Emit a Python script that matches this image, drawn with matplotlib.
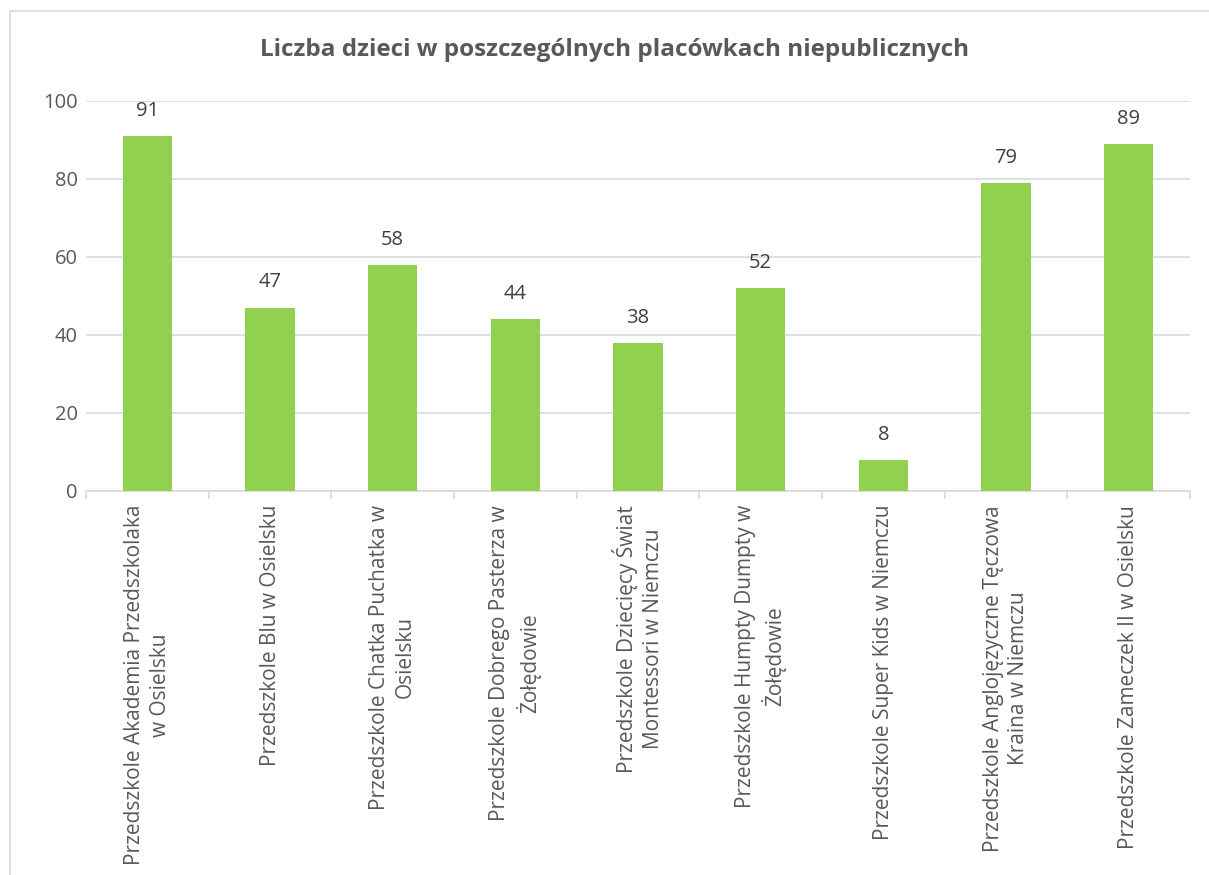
import matplotlib
matplotlib.use("Agg")
import matplotlib.pyplot as plt
from matplotlib.patches import Rectangle
import numpy as np

title = "Liczba dzieci w poszczególnych placówkach niepublicznych"
categories = [
    "Przedszkole Akademia Przedszkolaka\nw Osielsku",
    "Przedszkole Blu w Osielsku",
    "Przedszkole Chatka Puchatka w\nOsielsku",
    "Przedszkole Dobrego Pasterza w\nŻołędowie",
    "Przedszkole Dziecięcy Świat\nMontessori w Niemczu",
    "Przedszkole Humpty Dumpty w\nŻołędowie",
    "Przedszkole Super Kids w Niemczu",
    "Przedszkole Anglojęzyczne Tęczowa\nKraina w Niemczu",
    "Przedszkole Zameczek II w Osielsku",
]
values = [91, 47, 58, 44, 38, 52, 8, 79, 89]
yticks = [0, 20, 40, 60, 80, 100]

plt.rcParams['font.family'] = ['Open Sans', 'DejaVu Sans']
W, H = 1209, 875
fig = plt.figure(figsize=(W / 100, H / 100), dpi=100)
fig.patch.set_facecolor('white')

# chart border (cropped screenshot)
fig.patches.append(Rectangle((10 / W, -0.1), 1.2, 1 - 11 / H + 0.1,
                             transform=fig.transFigure, fill=False,
                             edgecolor='#d9d9d9', linewidth=1.2))

ax = fig.add_axes([86 / W, 1 - 491 / H, (1190 - 86) / W, (491 - 101) / H])
x = np.arange(len(values))
bars = ax.bar(x, values, width=0.4, color='#92d050', zorder=3)
ax.set_xlim(-0.5, len(values) - 0.5)
ax.set_ylim(0, 100)
ax.set_yticks(yticks)
ax.yaxis.grid(True, color='#d9d9d9', linewidth=1.2, zorder=0)
for s in ['top', 'right', 'left']:
    ax.spines[s].set_visible(False)
ax.spines['bottom'].set_color('#d9d9d9')
ax.spines['bottom'].set_linewidth(1.2)
ax.tick_params(axis='y', length=0, labelsize=14.5, labelcolor='#595959', pad=6)
ax.set_xticks(np.arange(-0.5, len(values), 1.0))
ax.set_xticklabels([])
ax.tick_params(axis='x', which='major', length=6, color='#d9d9d9', width=1.2)
ax.set_xticks(x, minor=True)
ax.set_xticklabels(categories, minor=True, rotation=90, ha='center', va='top',
                   multialignment='center', fontsize=15, color='#595959',
                   linespacing=1.3)
ax.tick_params(axis='x', which='minor', length=0, pad=10)

for b, v in zip(bars, values):
    ax.annotate(str(v), (b.get_x() + b.get_width() / 2, v), xytext=(0, 11),
                textcoords='offset points', ha='center', va='bottom',
                fontsize=14.5, color='#404040')

fig.text(615 / W, 1 - 50 / H, title, ha='center', va='center', fontsize=17.5,
         fontweight='bold', color='#595959')

fig.savefig('out.png', dpi=100)
